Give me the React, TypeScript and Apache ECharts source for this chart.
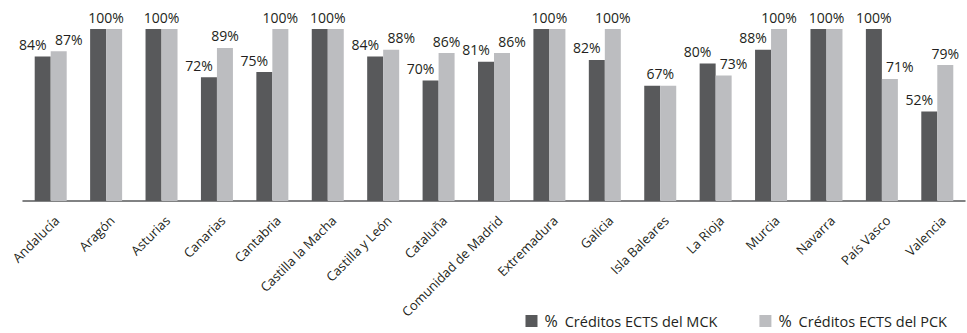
import React, { useEffect, useRef } from "react";
import * as echarts from "echarts";

const regions = [
  "Andalucía", "Aragón", "Asturias", "Canarias", "Cantabria", "Castilla la Macha",
  "Castilla y León", "Cataluña", "Comunidad de Madrid", "Extremadura", "Galicia",
  "Isla Baleares", "La Rioja", "Murcia", "Navarra", "País Vasco", "Valencia",
];
const mckName = "% Créditos ECTS del MCK";
const pckName = "% Créditos ECTS del PCK";
const mckValues = [84, 100, 100, 72, 75, 100, 84, 70, 81, 100, 82, 67, 80, 88, 100, 100, 52];
const pckValues = [87, 100, 100, 89, 100, 100, 88, 86, 86, 100, 100, 67, 73, 100, 100, 71, 79];

const DARK = "#58595b";
const LIGHT = "#bcbdc0";
const TEXT = "#231f20";
const FONT = "'Open Sans', 'Noto Sans', sans-serif";
const BAR_W = 16;

// Label placement for one bar of a pair: equal values share a single label
// centred over the pair; otherwise labels that would collide are pushed outward.
function labelFor(own: number, other: number, side: -1 | 1) {
  if (own === other) {
    return side === -1
      ? { show: true, offset: [BAR_W / 2, 0] }
      : { show: false };
  }
  const lower = own < other;
  const close = Math.abs(own - other) < 10;
  const dx = lower || close ? side * 10 : 0;
  return { show: true, offset: [dx, 0] };
}

export default function App() {
  const ref = useRef<HTMLDivElement>(null);

  useEffect(() => {
    if (!ref.current) return;
    const chart = echarts.init(ref.current, undefined, { renderer: "svg" });

    const labelBase = {
      position: "top" as const,
      distance: 5,
      color: TEXT,
      fontFamily: FONT,
      fontSize: 14,
      formatter: (p: any) => `${p.value}%`,
    };

    chart.setOption({
      animation: false,
      textStyle: { fontFamily: FONT },
      grid: { left: 23, right: 2, top: 29, bottom: 132 },
      xAxis: {
        type: "category",
        data: regions,
        axisTick: { show: false },
        axisLine: { lineStyle: { color: DARK, width: 1.5 } },
        axisLabel: { show: false },
      },
      yAxis: {
        type: "value",
        min: 0,
        max: 100,
        show: false,
        splitLine: { show: false },
      },
      legend: {
        right: 20,
        top: 313,
        padding: 0,
        itemWidth: 12,
        itemHeight: 12,
        itemGap: 42,
        icon: "rect",
        data: [mckName, pckName],
        formatter: (name: string) => `{p|%}{t|${name.replace(/^% /, "")}}`,
        textStyle: {
          color: TEXT,
          fontFamily: FONT,
          rich: {
            p: { fontSize: 16, lineHeight: 16, padding: [0, 7, 0, 2], color: TEXT, fontFamily: FONT },
            t: { fontSize: 14.5, lineHeight: 16, color: TEXT, fontFamily: FONT },
          },
        },
      },
      series: [
        {
          name: mckName,
          type: "bar",
          barWidth: BAR_W,
          barGap: "0%",
          itemStyle: { color: DARK },
          label: labelBase,
          data: mckValues.map((v, i) => ({ value: v, label: labelFor(v, pckValues[i], -1) })),
        },
        {
          name: pckName,
          type: "bar",
          barWidth: BAR_W,
          barGap: "0%",
          itemStyle: { color: LIGHT },
          label: labelBase,
          data: pckValues.map((v, i) => ({ value: v, label: labelFor(v, mckValues[i], 1) })),
        },
      ],
    });

    // Category names, slanted at 45° and anchored just below the axis line
    // at each category's position on the x scale.
    const labels = regions.map((name) => {
      const [x, y] = chart.convertToPixel({ gridIndex: 0 }, [name, 0]) as number[];
      return {
        type: "text",
        x: x + 6,
        y: y + 17,
        rotation: Math.PI / 4,
        silent: true,
        style: {
          text: name,
          align: "right",
          verticalAlign: "middle",
          fill: TEXT,
          fontFamily: FONT,
          fontSize: 13,
        },
      };
    });
    chart.setOption({ graphic: labels });

    return () => chart.dispose();
  }, []);

  return (
    <div
      ref={ref}
      style={{ position: "fixed", left: 0, top: 0, width: 967, height: 333, background: "#fff" }}
    />
  );
}
